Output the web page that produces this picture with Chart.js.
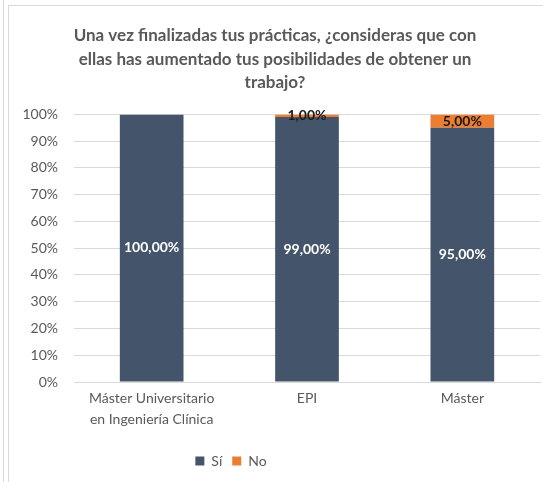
<!DOCTYPE html>
<html>
<head>
<meta charset="utf-8">
<script src="https://cdn.jsdelivr.net/npm/chart.js@4"></script>
<style>
  html, body { margin: 0; padding: 0; background: #fff; }
  #wrap { position: relative; width: 543px; height: 482px; overflow: hidden; }
  #edge { position: absolute; left: 3px; top: 0; width: 1px; height: 482px; background: #d9d9d9; }
  #frame { position: absolute; left: 8px; top: 5px; right: 0; bottom: 0;
           border-left: 1px solid #d9d9d9; border-top: 1px solid #d9d9d9; }
  #chart { position: absolute; left: 0; top: 0; }
</style>
</head>
<body>
<div id="wrap">
  <div id="edge"></div>
  <div id="frame"></div>
  <canvas id="chart" width="543" height="482"></canvas>
</div>
<script>
// Datos
const titleLines = [
    'Una vez finalizadas tus prácticas, ¿consideras que con',
    'ellas has aumentado tus posibilidades de obtener un',
    'trabajo?'
];
const categories = [
    ['Máster Universitario', 'en Ingeniería Clínica'],
    'EPI',
    'Máster'
];
const seriesNames = ['Sí', 'No'];
const siValues = [100, 99, 95];
const noValues = [0, 1, 5];

const FONT = 'Lato, "Open Sans", sans-serif';
const GREY = '#595959';

// etiquetas de datos, centradas en cada segmento
const dataLabels = {
    id: 'dataLabels',
    afterDatasetsDraw(chart) {
        const ctx = chart.ctx;
        ctx.save();
        ctx.font = 'bold 14px ' + FONT;
        ctx.textAlign = 'center';
        ctx.textBaseline = 'middle';
        chart.data.datasets.forEach(function(ds, i) {
            const meta = chart.getDatasetMeta(i);
            meta.data.forEach(function(bar, j) {
                const v = ds.data[j];
                if (!v) return;
                ctx.fillStyle = i === 0 ? '#ffffff' : '#1a1a1a';
                const y = (bar.y + bar.base) / 2;
                ctx.fillText(v.toFixed(2).replace('.', ',') + '%', bar.x, y);
            });
        });
        ctx.restore();
    }
};

// la leyenda de Excel no está centrada en el ancho total
const shiftLegend = {
    id: 'shiftLegend',
    afterLayout(chart) {
        chart.legend.left -= 44;
        chart.legend.right -= 44;
    }
};

new Chart(document.getElementById('chart'), {
    type: 'bar',
    data: {
        labels: categories,
        datasets: [{
            label: seriesNames[0],
            data: siValues,
            backgroundColor: '#44546A'
        }, {
            label: seriesNames[1],
            data: noValues,
            backgroundColor: '#ED7D31'
        }]
    },
    options: {
        responsive: false,
        animation: false,
        layout: { padding: { left: 10, right: 3, top: 24, bottom: 4 } },
        datasets: {
            bar: { categoryPercentage: 1, barPercentage: 0.41 }
        },
        scales: {
            x: {
                stacked: true,
                grid: { display: false, drawTicks: false },
                border: { color: '#d9d9d9' },
                ticks: { color: GREY, font: { family: FONT, size: 14, lineHeight: 1.5 }, padding: 6, maxRotation: 0 },
                afterFit(s) { s.height = 62; }
            },
            y: {
                stacked: true,
                min: 0,
                max: 100,
                border: { display: false },
                grid: { color: '#d9d9d9', drawTicks: false },
                ticks: {
                    stepSize: 10,
                    color: GREY,
                    font: { family: FONT, size: 14 },
                    padding: 16,
                    callback: function(v) { return v + '%'; }
                },
                afterFit(s) { s.width = 64; }
            }
        },
        plugins: {
            title: {
                display: true,
                text: titleLines,
                color: GREY,
                font: { family: FONT, size: 17, weight: 'bold', lineHeight: 1.38 },
                padding: { top: 0, bottom: 20 }
            },
            legend: {
                position: 'bottom',
                labels: {
                    color: GREY,
                    font: { family: FONT, size: 14 },
                    boxWidth: 9,
                    boxHeight: 9,
                    padding: 10
                }
            },
            tooltip: { enabled: false }
        }
    },
    plugins: [dataLabels, shiftLegend]
});
</script>
</body>
</html>
